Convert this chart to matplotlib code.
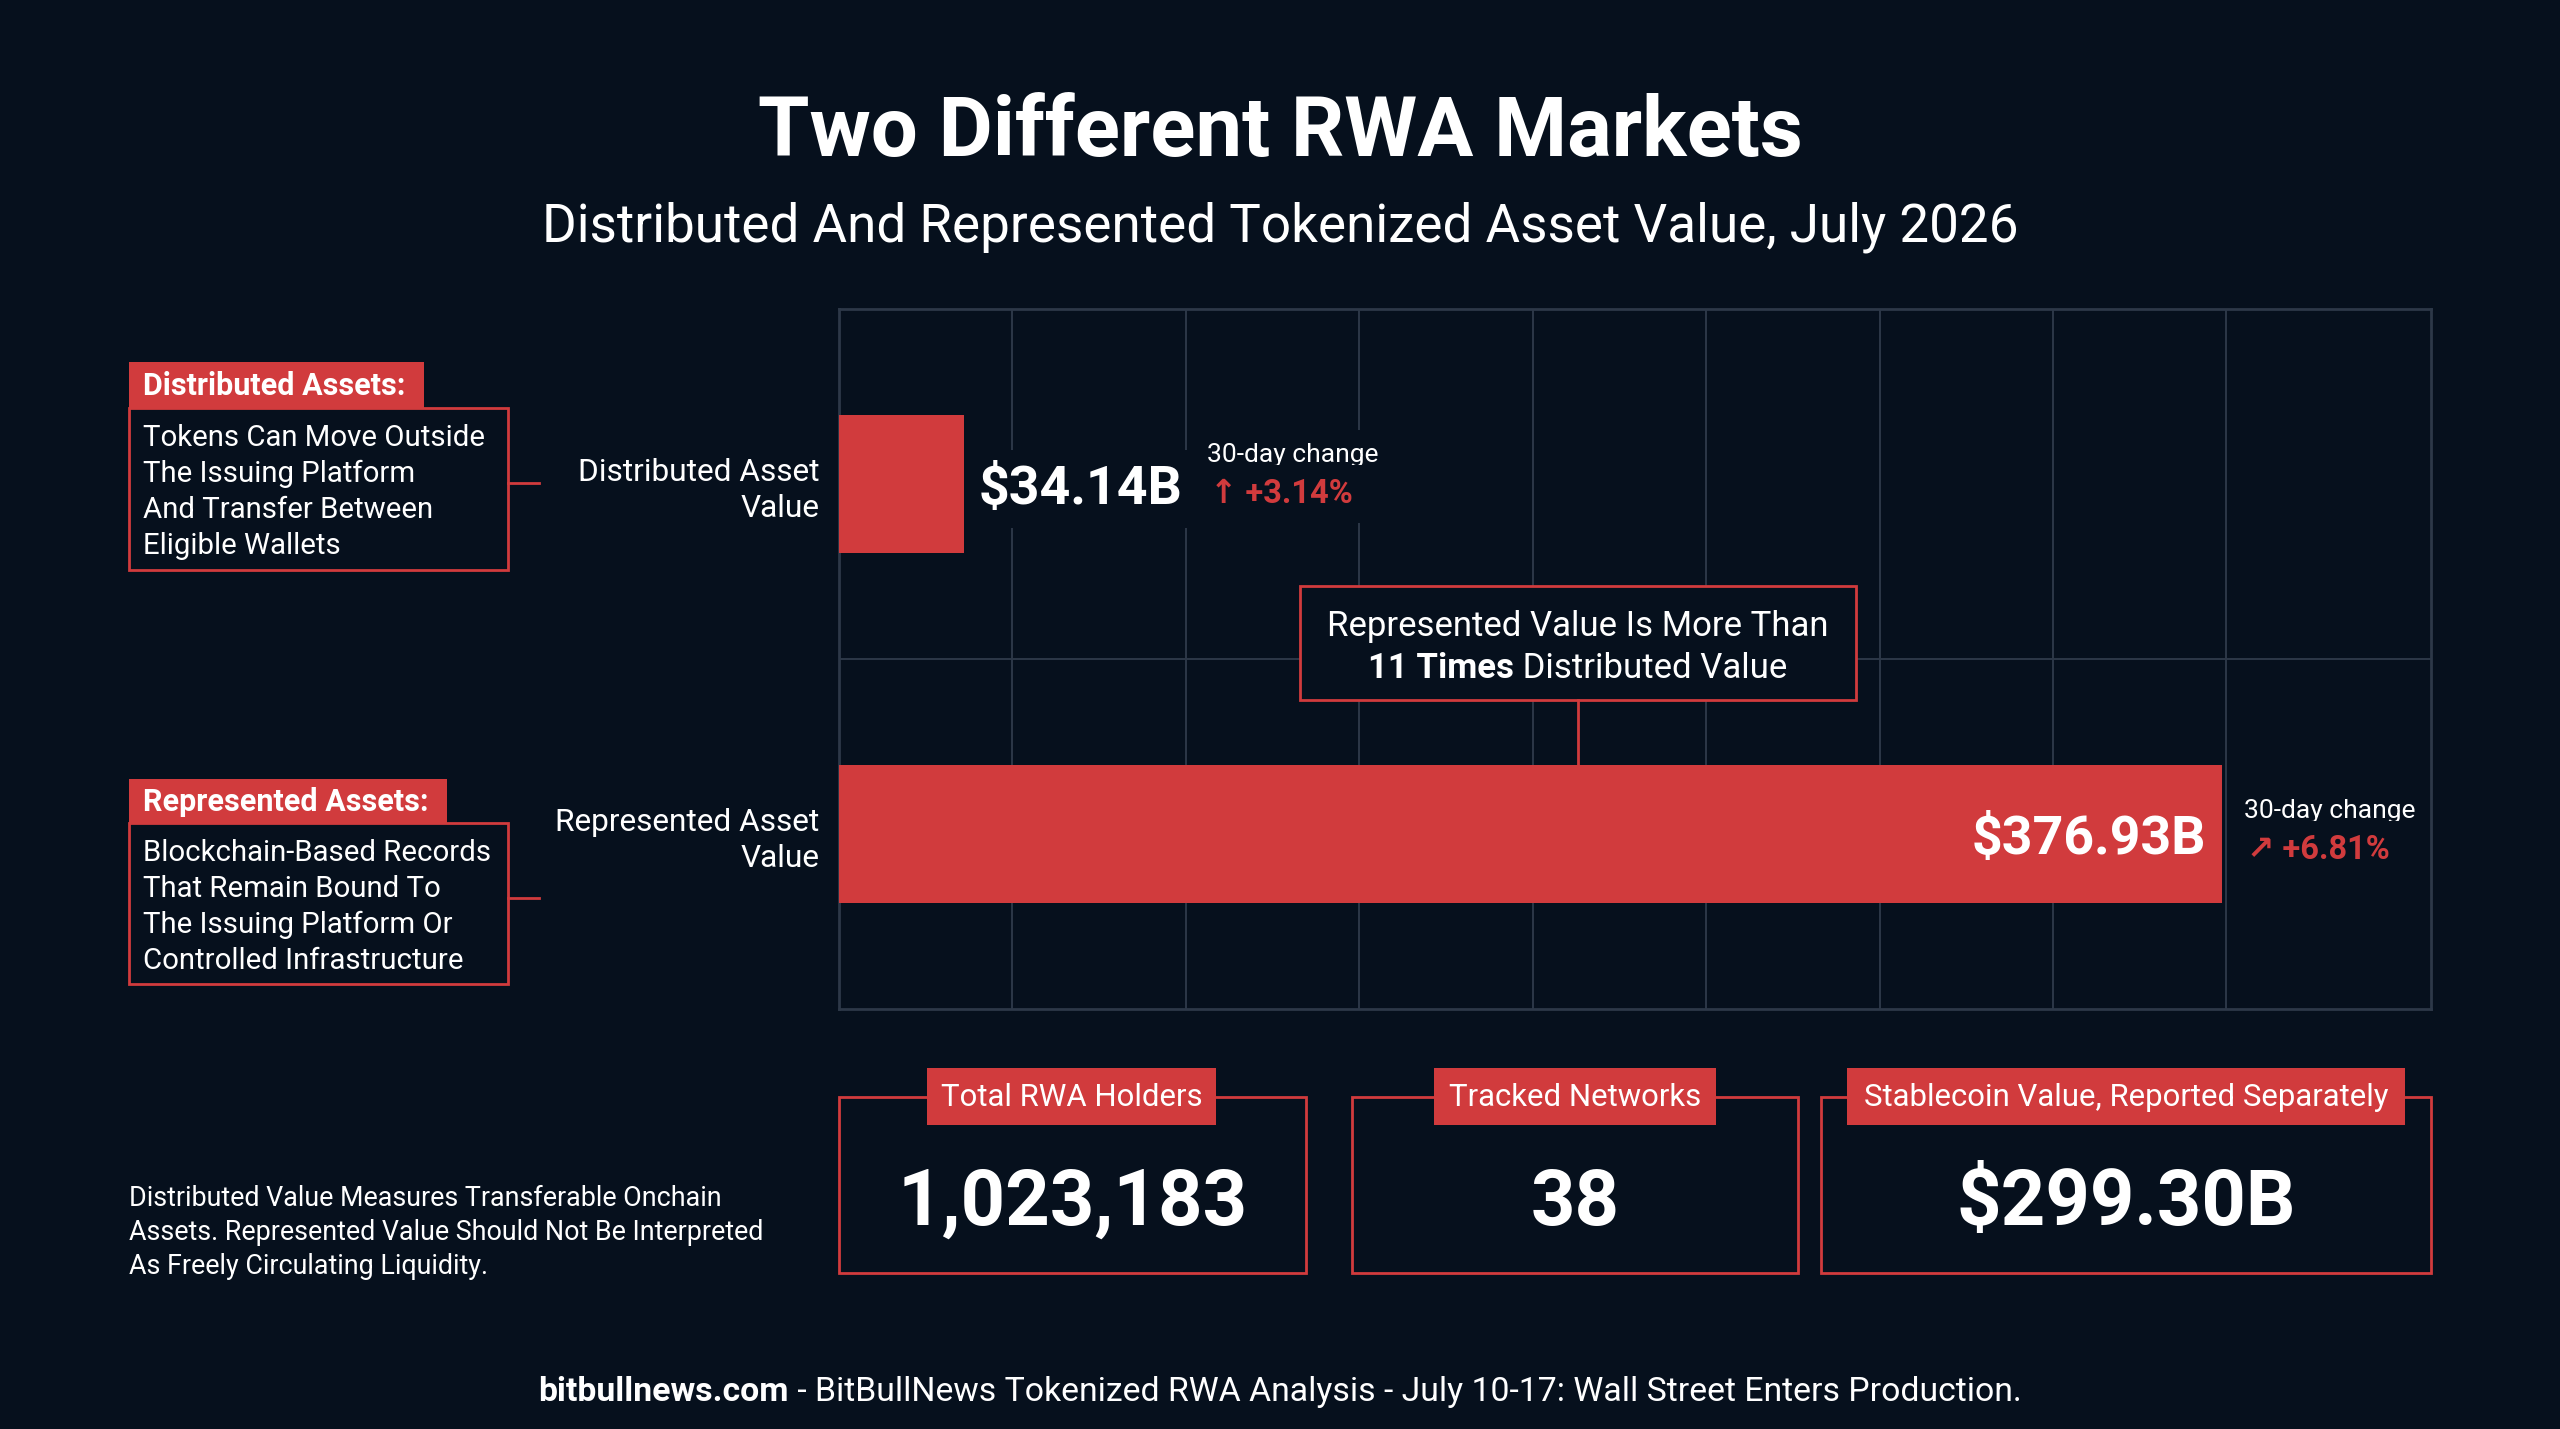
import matplotlib
matplotlib.use('Agg')
import matplotlib.pyplot as plt
from matplotlib.patches import Rectangle
import numpy as np

# ---------------- data ----------------
categories = ['Distributed Asset\nValue', 'Represented Asset\nValue']
values = [34.14, 376.93]            # $B
changes = [3.14, 6.81]              # 30-day % change
change_arrows = ['\u2191', '\u2197']

stat_titles = ['Total RWA Holders', 'Tracked Networks', 'Stablecoin Value, Reported Separately']
stat_values = ['1,023,183', '38', '$299.30B']

title = 'Two Different RWA Markets'
subtitle = 'Distributed And Represented Tokenized Asset Value, July 2026'
side_headers = ['Distributed Assets:', 'Represented Assets:']
side_bodies = [
    ['Tokens Can Move Outside', 'The Issuing Platform', 'And Transfer Between', 'Eligible Wallets'],
    ['Blockchain-Based Records', 'That Remain Bound To', 'The Issuing Platform Or', 'Controlled Infrastructure'],
]
callout_line1 = 'Represented Value Is More Than'
callout_bold = '11 Times'
callout_rest = ' Distributed Value'
footnote = ['Distributed Value Measures Transferable Onchain',
            'Assets. Represented Value Should Not Be Interpreted',
            'As Freely Circulating Liquidity.']
footer_bold = 'bitbullnews.com'
footer_rest = ' - BitBullNews Tokenized RWA Analysis - July 10-17: Wall Street Enters Production.'

# ---------------- style ----------------
W, H = 2560, 1429
DPI = 100
BG = '#06101d'
RED = '#d13b3d'
GRID = '#2d3848'
WHITE = '#ffffff'
plt.rcParams['font.family'] = ['Roboto', 'DejaVu Sans']

fig = plt.figure(figsize=(W / DPI, H / DPI), dpi=DPI, facecolor=BG)

# main bar axes (pixel box: x 839..2431, y 309..1009)
L, R, T, B = 839, 2431, 309, 1009
ax = fig.add_axes([L / W, 1 - B / H, (R - L) / W, (B - T) / H], zorder=1)
ax.set_facecolor(BG)
XMAX = 433.9
STEP = XMAX / 9.18
ax.set_xlim(0, XMAX)
ax.set_ylim(0, 4)
ypos = [3, 1]
ax.barh(ypos, values, height=0.79, color=RED, zorder=3)
ax.set_yticks(ypos)
ax.set_yticklabels(categories, fontsize=22.8, color=WHITE, linespacing=1.3)
ax.set_xticks([])
ax.set_xticks(np.arange(9) * STEP, minor=True)
ax.set_yticks([1, 2, 3], minor=True)
ax.tick_params(which='both', length=0)
ax.tick_params(axis='y', which='major', pad=14)
ax.grid(which='minor', color=GRID, linewidth=1.4)
ax.set_axisbelow(True)
for s in ax.spines.values():
    s.set_color(GRID)
    s.set_linewidth(2)

# value labels
ax.annotate(f'${values[0]:.2f}B', (values[0], ypos[0]), xytext=(14, -5), textcoords='offset pixels',
            ha='left', va='center', fontsize=38.6, fontweight='bold', color=WHITE, zorder=5,
            bbox=dict(boxstyle='square,pad=0.25', fc=BG, ec='none'))
ax.annotate(f'${values[1]:.2f}B', (values[1], ypos[1]), xytext=(-16, -5), textcoords='offset pixels',
            ha='right', va='center', fontsize=38.6, fontweight='bold', color=WHITE, zorder=5)

chg_offsets = [(243, 29, -10), (22, 23, -16)]
for v, y, c, a, (ox, oy1, oy2) in zip(values, ypos, changes, change_arrows, chg_offsets):
    ax.annotate('30-day change', (v, y), xytext=(ox, oy1), textcoords='offset pixels',
                ha='left', va='center', fontsize=19, color=WHITE, zorder=5,
                bbox=dict(boxstyle='square,pad=0.5', fc=BG, ec='none'))
    ax.annotate(f'{a} +{c:.2f}%', (v, y), xytext=(ox + 3, oy2), textcoords='offset pixels',
                ha='left', va='center', fontsize=23.5, fontweight='bold', color=RED, zorder=5,
                bbox=dict(boxstyle='square,pad=0.4', fc=BG, ec='none'))

# ---------------- overlay in pixel coordinates ----------------
ov = fig.add_axes([0, 0, 1, 1], zorder=2)
ov.set_xlim(0, W)
ov.set_ylim(H, 0)
ov.axis('off')
ov.patch.set_alpha(0)

renderer = fig.canvas.get_renderer()


def rich(x, y, parts, size, ha='center'):
    texts, widths = [], []
    for s, w, c in parts:
        t = ov.text(0, y, s, fontsize=size, fontweight=w, color=c, ha='left', va='center', zorder=6)
        widths.append(t.get_window_extent(renderer).width)
        texts.append(t)
    start = x - sum(widths) / 2 if ha == 'center' else x
    for t, w in zip(texts, widths):
        t.set_x(start)
        start += w


# titles
ov.text(W / 2, 133, title, ha='center', va='center', fontsize=60, fontweight='bold', color=WHITE)
ov.text(W / 2, 227, subtitle, ha='center', va='center', fontsize=38.2, color=WHITE)

# side explanation boxes
hdr_boxes = [(129, 362, 424, 408), (129, 779, 447, 823)]
body_boxes = [(129, 408, 508, 570), (129, 823, 508, 984)]
conn_y = [483, 898]
for hdr, hb, bb, cy, body in zip(side_headers, hdr_boxes, body_boxes, conn_y, side_bodies):
    x0, y0, x1, y1 = hb
    ov.add_patch(Rectangle((x0, y0), x1 - x0, y1 - y0, fc=RED, ec='none', zorder=3))
    ov.text(x0 + 14, (y0 + y1) / 2 + 1, hdr, ha='left', va='center', fontsize=22,
            fontweight='bold', color=WHITE, zorder=4)
    x0, y0, x1, y1 = bb
    ov.add_patch(Rectangle((x0, y0), x1 - x0, y1 - y0, fc=BG, ec=RED, lw=2, zorder=3))
    for i, line in enumerate(body):
        ov.text(x0 + 14, y0 + 30 + i * 36, line, ha='left', va='center', fontsize=21.2,
                color=WHITE, zorder=4)
    ov.plot([x1, 539], [cy, cy], color=RED, lw=2, zorder=3)

# callout box
cx0, cy0, cx1, cy1 = 1300, 586, 1856, 700
ov.add_patch(Rectangle((cx0, cy0), cx1 - cx0, cy1 - cy0, fc=BG, ec=RED, lw=2, zorder=3))
ccx = (cx0 + cx1) / 2
ov.text(ccx, 626, callout_line1, ha='center', va='center', fontsize=25, color=WHITE, zorder=6)
rich(ccx, 668, [(callout_bold, 'bold', WHITE), (callout_rest, 'normal', WHITE)], 25)
bar_top_px = ax.transData.transform((0, ypos[1] + 0.79 / 2))[1]
ov.plot([ccx, ccx], [cy1, H - bar_top_px], color=RED, lw=2, zorder=3)

# stat boxes
stat_boxes = [(839, 1097, 1306, 1273), (1352, 1097, 1798, 1273), (1821, 1097, 2431, 1273)]
stat_hdrs = [(927, 1068, 1216, 1125), (1434, 1068, 1716, 1125), (1847, 1068, 2405, 1125)]
for st, sv, sb, sh in zip(stat_titles, stat_values, stat_boxes, stat_hdrs):
    x0, y0, x1, y1 = sb
    ov.add_patch(Rectangle((x0, y0), x1 - x0, y1 - y0, fc='none', ec=RED, lw=2, zorder=3))
    hx0, hy0, hx1, hy1 = sh
    ov.add_patch(Rectangle((hx0, hy0), hx1 - hx0, hy1 - hy0, fc=RED, ec='none', zorder=4))
    ov.text((hx0 + hx1) / 2, (hy0 + hy1) / 2 + 1, st, ha='center', va='center', fontsize=22.4,
            color=WHITE, zorder=5)
    ov.text((x0 + x1) / 2, 1204, sv, ha='center', va='center', fontsize=56, fontweight='bold',
            color=WHITE, zorder=5)

# footnote
for i, line in enumerate(footnote):
    ov.text(129, 1199 + i * 33.5, line, ha='left', va='center', fontsize=19.4, color=WHITE)

# footer
rich(W / 2, 1392, [(footer_bold, 'bold', WHITE), (footer_rest, 'normal', WHITE)], 24.3)

fig.savefig('out.png', dpi=DPI, facecolor=BG)
